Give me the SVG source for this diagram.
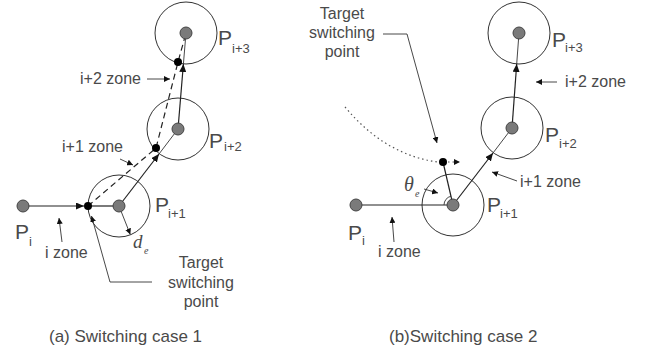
<svg xmlns="http://www.w3.org/2000/svg" width="656" height="351" viewBox="0 0 656 351">
<style>
text{font-family:"Liberation Sans",Arial,sans-serif;fill:#4a4a4a;}
.lbl{font-size:16px;}
.cap{font-size:17px;}
.P{font-size:21px;}
.sub{font-size:13px;}
.it{font-family:"Liberation Serif","Times New Roman",serif;font-style:italic;}
.zone{fill:none;stroke:#333;stroke-width:1;}
.pt{fill:#7a7a7a;stroke:#444;stroke-width:1;}
.tp{fill:#000;}
.ln{fill:none;stroke:#222;stroke-width:1.2;}
.thin{fill:none;stroke:#333;stroke-width:0.9;}
.ar{marker-end:url(#ah);}
.dash{fill:none;stroke:#222;stroke-width:1.2;stroke-dasharray:6 4;}
.dot{fill:none;stroke:#555;stroke-width:1.2;stroke-dasharray:1.5 3;}
</style>
<defs>
<marker id="ah" markerUnits="userSpaceOnUse" markerWidth="9" markerHeight="7" refX="8" refY="3.5" orient="auto">
<path d="M0,0 L8,3.5 L0,7 z" fill="#111"/>
</marker>
<marker id="sh" markerUnits="userSpaceOnUse" markerWidth="7" markerHeight="6" refX="6" refY="3" orient="auto">
<path d="M0,0 L6,3 L0,6 z" fill="#111"/>
</marker>
</defs>

<!-- (a) Switching case 1 -->
<g id="a-zone-i1"><circle class="zone" cx="119" cy="206" r="31"/></g>
<g id="a-zone-i2"><circle class="zone" cx="178" cy="129" r="31"/></g>
<g id="a-zone-i3"><circle class="zone" cx="186" cy="33" r="31"/></g>

<g id="a-connectors">
<line class="ln ar" x1="23" y1="206" x2="84" y2="206"/>
<line class="ln" x1="88" y1="206" x2="119" y2="206"/>
<line class="ln ar" x1="119" y1="206" x2="159" y2="154"/>
<line class="thin" x1="159" y1="154" x2="178" y2="129"/>
<line class="ln ar" x1="178" y1="129" x2="183.4" y2="64"/>
<line class="thin" x1="183.4" y1="64" x2="186" y2="33"/>
<polyline class="dash" points="88,206 156,148 178,62 186,33"/>
<line class="thin" x1="119" y1="206" x2="130.3" y2="234.5" marker-end="url(#sh)"/>
<line class="thin" x1="147" y1="79" x2="170" y2="79" marker-end="url(#sh)"/>
<line class="thin" x1="120" y1="159" x2="133" y2="165" marker-end="url(#sh)"/>
<line class="thin" x1="62" y1="242" x2="59" y2="218" marker-end="url(#sh)"/>
<polyline class="thin" points="152,282 110,282 91.5,216" marker-end="url(#sh)"/>
</g>

<g id="a-Pi"><circle class="pt" cx="23" cy="206" r="6"/><text class="P" x="15" y="239">P</text><text class="sub" x="29" y="246">i</text></g>
<g id="a-Pi1"><circle class="pt" cx="119" cy="206" r="6"/><text class="P" x="155" y="212">P</text><text class="sub" x="168" y="218">i+1</text></g>
<g id="a-Pi2"><circle class="pt" cx="178" cy="129" r="6"/><text class="P" x="209" y="148">P</text><text class="sub" x="224" y="151">i+2</text></g>
<g id="a-Pi3"><circle class="pt" cx="186" cy="33" r="6"/><text class="P" x="218" y="45">P</text><text class="sub" x="232" y="53">i+3</text></g>
<g id="a-targets">
<circle class="tp" cx="88" cy="206" r="4"/>
<circle class="tp" cx="156" cy="148" r="4"/>
<circle class="tp" cx="178" cy="62" r="4"/>
</g>
<g id="a-labels">
<text class="lbl" x="80" y="84">i+2 zone</text>
<text class="lbl" x="62" y="152">i+1 zone</text>
<text class="lbl" x="45" y="258">i zone</text>
<text class="it" x="133" y="248" font-size="19">d</text><text class="it" x="144" y="254" font-size="10">e</text>
<text class="lbl" x="201" y="268" text-anchor="middle">Target</text>
<text class="lbl" x="201" y="288" text-anchor="middle">switching</text>
<text class="lbl" x="201" y="307" text-anchor="middle">point</text>
<text class="cap" x="49" y="342">(a) Switching case 1</text>
</g>

<!-- (b) Switching case 2 -->
<g id="b-zone-i1"><circle class="zone" cx="453" cy="205" r="31"/></g>
<g id="b-zone-i2"><circle class="zone" cx="512" cy="128" r="31"/></g>
<g id="b-zone-i3"><circle class="zone" cx="519" cy="33" r="31"/></g>

<g id="b-connectors">
<line class="ln" x1="356" y1="205" x2="453" y2="205"/>
<line class="ln" x1="453" y1="205" x2="443" y2="162"/>
<line class="ln ar" x1="453" y1="205" x2="493" y2="153"/>
<line class="thin" x1="493" y1="153" x2="512" y2="128"/>
<line class="ln ar" x1="512" y1="128" x2="516.7" y2="64"/>
<line class="thin" x1="516.7" y1="64" x2="519" y2="33"/>
<path class="dot" d="M345,107 Q385,155 438,162"/>
<line class="dot" x1="448" y1="162" x2="460" y2="162" marker-end="url(#sh)"/>
<path class="thin" d="M444,205 A9,9 0 0 1 451,196.2"/>
<line class="thin" x1="424" y1="189" x2="438" y2="193" marker-end="url(#sh)"/>
<line class="thin" x1="394" y1="242" x2="392" y2="217" marker-end="url(#sh)"/>
<line class="thin" x1="557" y1="82" x2="536" y2="82" marker-end="url(#sh)"/>
<line class="thin" x1="517" y1="181" x2="492" y2="172" marker-end="url(#sh)"/>
<polyline class="thin" points="383,34 407,34 437,143" marker-end="url(#sh)"/>
</g>

<g id="b-Pi"><circle class="pt" cx="356" cy="205" r="6"/><text class="P" x="348" y="240">P</text><text class="sub" x="362" y="245">i</text></g>
<g id="b-Pi1"><circle class="pt" cx="453" cy="205" r="6"/><text class="P" x="487" y="212">P</text><text class="sub" x="500" y="218">i+1</text></g>
<g id="b-Pi2"><circle class="pt" cx="512" cy="128" r="6"/><text class="P" x="545" y="142">P</text><text class="sub" x="559" y="148">i+2</text></g>
<g id="b-Pi3"><circle class="pt" cx="519" cy="33" r="6"/><text class="P" x="552" y="47">P</text><text class="sub" x="565" y="52">i+3</text></g>
<g id="b-target"><circle class="tp" cx="443" cy="162" r="4"/></g>
<g id="b-labels">
<text class="lbl" x="565" y="87">i+2 zone</text>
<text class="lbl" x="520" y="187">i+1 zone</text>
<text class="lbl" x="378" y="257">i zone</text>
<text class="it" x="404" y="191" font-size="20">θ</text><text class="it" x="415" y="197" font-size="10">e</text>
<text class="lbl" x="342" y="19" text-anchor="middle">Target</text>
<text class="lbl" x="342" y="38" text-anchor="middle">switching</text>
<text class="lbl" x="342" y="57" text-anchor="middle">point</text>
<text class="cap" x="389" y="342">(b)Switching case 2</text>
</g>
</svg>
